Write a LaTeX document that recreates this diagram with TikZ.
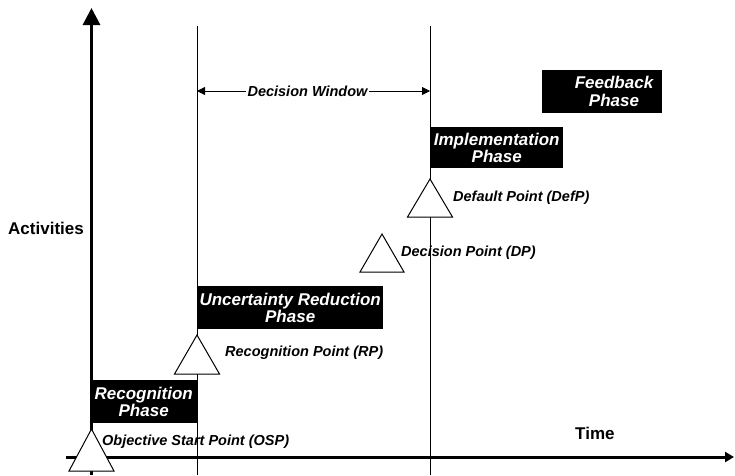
\documentclass[tikz,border=0pt]{standalone}
\usepackage{fontspec}
\setmainfont{Liberation Sans}
\usetikzlibrary{arrows.meta}
\begin{document}
\begin{tikzpicture}[x=1pt,y=-1pt,
  lbl/.style={font=\fontsize{14.5}{16}\selectfont\bfseries\itshape, inner sep=0pt, anchor=west},
  axislbl/.style={font=\fontsize{17}{19}\selectfont\bfseries, inner sep=0pt},
  phasefont/.style={text=white, align=center, inner sep=0pt,
    font=\fontsize{17}{17.5}\selectfont\bfseries\itshape},
  phasebox/.style={phasefont, fill=black, anchor=north west},
  tri/.style={draw=black, fill=white, line width=1pt, line join=miter},
  guide/.style={line width=0.9pt},
  axis/.style={line width=3pt},
  ]
\useasboundingbox (0,0) rectangle (735,475);

% reference points
\coordinate (yBot) at (91.5,475);
\coordinate (yTop) at (91.5,8);
\coordinate (xL) at (66,457);
\coordinate (xR) at (734,457);
\coordinate (g1T) at (197,26);
\coordinate (g1B) at (197,475);
\coordinate (g2T) at (430,26);
\coordinate (g2B) at (430,475);
\coordinate (dwL) at (197,91);
\coordinate (dwR) at (430,91);

% guide lines bounding the decision window
\draw[guide] (g1T) -- (g1B);
\draw[guide] (g2T) -- (g2B);

% axes
\draw[axis, -{Triangle[length=17pt,width=17pt]}] (yBot) -- (yTop);
\draw[axis, -{Triangle[length=9pt,width=10pt]}] (xL) -- (xR);

% decision window span
\draw[line width=0.8pt, {Triangle[length=8pt,width=8pt]}-{Triangle[length=8pt,width=8pt]}] (dwL) -- (dwR);
\node[lbl, anchor=center, fill=white, inner sep=2pt] (dw) at (307.5,91) {Decision Window};

% phases
\node[phasebox, minimum width=107pt, minimum height=43pt] (rec) at (90,380) {Recognition\\Phase};
\node[phasebox, minimum width=186pt, minimum height=43pt] (unc) at (197,286) {Uncertainty Reduction\\Phase};
\node[phasebox, minimum width=133pt, minimum height=41pt] (imp) at (430,127) {Implementation\\Phase};
\node[fill=black, anchor=north west, minimum width=120pt, minimum height=43pt, inner sep=0pt] (fb) at (542,70) {};
\node[phasefont] (fbtext) at (614,91.5) {Feedback\\Phase};

% milestone triangles
\draw[tri] (91.5,429) -- (114,471) -- (69,471) -- cycle;
\draw[tri] (197,335) -- (219.5,374) -- (174.5,374) -- cycle;
\draw[tri] (382,234) -- (404,272) -- (360,272) -- cycle;
\draw[tri] (430,179) -- (452.5,217) -- (407.5,217) -- cycle;

% milestone labels
\node[lbl] (osp) at (102,442) {Objective Start Point (OSP)};
\node[lbl] (rp) at (225,353) {Recognition Point (RP)};
\node[lbl] (dp) at (401,253) {Decision Point (DP)};
\node[lbl] (defp) at (453,198) {Default Point (DefP)};

% axis labels
\node[axislbl, anchor=east] (act) at (84,228) {Activities};
\node[axislbl, anchor=west] (time) at (575,433) {Time};
\end{tikzpicture}
\end{document}
